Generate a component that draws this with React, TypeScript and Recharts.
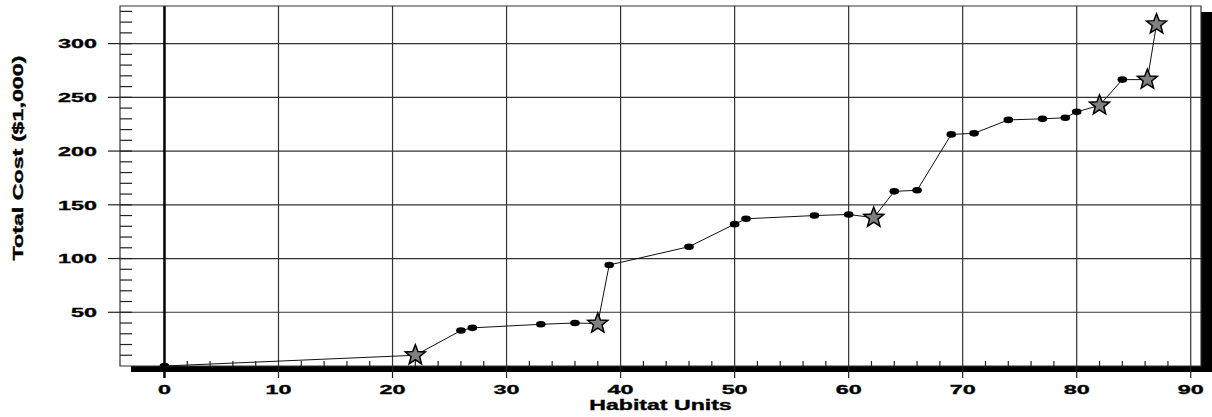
import React from "react";
import {
  ComposedChart,
  Line,
  Scatter,
  XAxis,
  YAxis,
  CartesianGrid,
  ReferenceArea,
  Label,
} from "recharts";

// habitat units vs. total cost, all points in order along the curve
const habitatUnits = [0, 22, 26, 27, 33, 36, 38, 39, 46, 50, 51, 57, 60, 62.2, 64, 66, 69, 71, 74, 77, 79, 80, 82, 84, 86.2, 87];
const totalCost = [0, 10, 33, 35.5, 38.8, 40, 39.5, 94, 111, 132, 137, 140, 141, 138, 162.5, 163.5, 215.5, 216.5, 229, 230, 231, 236.5, 242.5, 266.5, 266.5, 318];
// which of the points above are drawn as stars
const starred = [false, true, false, false, false, false, true, false, false, false, false, false, false, true, false, false, false, false, false, false, false, false, true, false, true, true];

const xMajor = [0, 10, 20, 30, 40, 50, 60, 70, 80, 90];
const xTicks = [0, 2, 4, 6, 8, 10, 12, 14, 16, 18, 20, 22, 24, 26, 28, 30, 32, 34, 36, 38, 40, 42, 44, 46, 48, 50, 52, 54, 56, 58, 60, 62, 64, 66, 68, 70, 72, 74, 76, 78, 80, 82, 84, 86, 88, 90];
const yMajor = [50, 100, 150, 200, 250, 300];
const yTicks = [10, 20, 30, 40, 50, 60, 70, 80, 90, 100, 110, 120, 130, 140, 150, 160, 170, 180, 190, 200, 210, 220, 230, 240, 250, 260, 270, 280, 290, 300, 310, 320, 330];

const points = habitatUnits.map((x, i) => ({ x, y: totalCost[i] }));
const circles = points.filter((_, i) => !starred[i]);
const stars = points.filter((_, i) => starred[i]);

const FONT = "'Liberation Sans', Arial, sans-serif";
const INK = "#222";
// the original lettering is a heavy, wide face: bold + thin outline + horizontal stretch
const textStyle = {
  fontFamily: FONT,
  fontWeight: "bold" as const,
  fill: "#000",
  stroke: "#000",
  strokeWidth: 0.35,
};

const XTick = (props: any) => {
  const { x, y, payload } = props;
  const v = payload.value;
  if (v % 10 !== 0) {
    return <line x1={x} x2={x} y1={y} y2={y - 5} stroke={INK} strokeWidth={1.2} />;
  }
  return (
    <g>
      <line x1={x} x2={x} y1={y} y2={y + 12} stroke={v === 0 ? "#000" : INK} strokeWidth={v === 0 ? 2.5 : 1.2} />
      <text transform={`translate(${x},${y + 28}) scale(1.73,1)`} textAnchor="middle" fontSize={13.5} {...textStyle}>
        {v}
      </text>
    </g>
  );
};

const YTick = (props: any) => {
  const { x, y, payload } = props;
  const v = payload.value;
  if (v % 50 !== 0) {
    return <line x1={x} x2={x + 12} y1={y} y2={y} stroke={INK} strokeWidth={1.2} />;
  }
  return (
    <g>
      <line x1={x - 12} x2={x + 12} y1={y} y2={y} stroke={INK} strokeWidth={1.2} />
      <text transform={`translate(${x - 23},${y + 4.8}) scale(1.73,1)`} textAnchor="end" fontSize={13.5} {...textStyle}>
        {v}
      </text>
    </g>
  );
};

const XTitle = ({ viewBox }: any) => (
  <text
    transform={`translate(${viewBox.x + viewBox.width / 2},${viewBox.y + 44}) scale(1.65,1)`}
    textAnchor="middle"
    fontSize={14}
    {...textStyle}
  >
    Habitat Units
  </text>
);

const YTitle = ({ viewBox }: any) => (
  <text
    transform={`translate(22.5,${viewBox.y + 152}) rotate(-90) scale(1.66,1)`}
    textAnchor="middle"
    fontSize={14}
    {...textStyle}
  >
    Total Cost ($1,000)
  </text>
);

const Dot = (props: any) => <ellipse cx={props.cx} cy={props.cy} rx={4.8} ry={3.3} fill="#000" />;

const Star = (props: any) => {
  const { cx, cy } = props;
  const R = 10.5;
  const r = 4.5;
  const pts: string[] = [];
  for (let k = 0; k < 10; k++) {
    const a = -Math.PI / 2 + (k * Math.PI) / 5;
    const rad = k % 2 === 0 ? R : r;
    pts.push(`${cx + rad * Math.cos(a)},${cy + rad * Math.sin(a)}`);
  }
  return <polygon points={pts.join(" ")} fill="#808080" stroke="#000" strokeWidth={1.5} strokeLinejoin="miter" />;
};

export default function App() {
  return (
    <div style={{ position: "absolute", left: 0, top: 0, width: 1212, height: 417, background: "#fff" }}>
      {/* drop shadow behind the plot box */}
      <div style={{ position: "absolute", left: 131, top: 12, width: 1081, height: 360, background: "#000" }} />
      <ComposedChart
        width={1212}
        height={417}
        margin={{ top: 6, right: 11, left: 0, bottom: 0 }}
        style={{ position: "relative" }}
      >
        <CartesianGrid
          fill="#fff"
          stroke="#333"
          strokeWidth={1.2}
          horizontalValues={yMajor}
          verticalValues={xMajor.filter((v) => v !== 0)}
        />
        <CartesianGrid stroke="#000" strokeWidth={2.5} horizontal={false} verticalValues={[0]} />
        <ReferenceArea x1={-3.9} x2={90.9} y1={0} y2={335} fill="none" stroke="#333" strokeWidth={1.2} />
        <XAxis
          type="number"
          dataKey="x"
          domain={[-3.9, 90.9]}
          ticks={xTicks}
          interval={0}
          tick={<XTick />}
          tickSize={0}
          tickMargin={0}
          tickLine={false}
          axisLine={false}
          height={51}
          allowDataOverflow
        >
          <Label content={<XTitle />} />
        </XAxis>
        <YAxis
          type="number"
          dataKey="y"
          domain={[0, 335]}
          ticks={yTicks}
          interval={0}
          tick={<YTick />}
          tickSize={0}
          tickMargin={0}
          tickLine={false}
          axisLine={false}
          width={120}
          allowDataOverflow
        >
          <Label content={<YTitle />} />
        </YAxis>
        <Line
          data={points}
          dataKey="y"
          type="linear"
          stroke="#111"
          strokeWidth={1}
          dot={false}
          activeDot={false}
          isAnimationActive={false}
        />
        <Scatter data={circles} dataKey="y" shape={<Dot />} isAnimationActive={false} />
        <Scatter data={stars} dataKey="y" shape={<Star />} isAnimationActive={false} />
      </ComposedChart>
    </div>
  );
}
